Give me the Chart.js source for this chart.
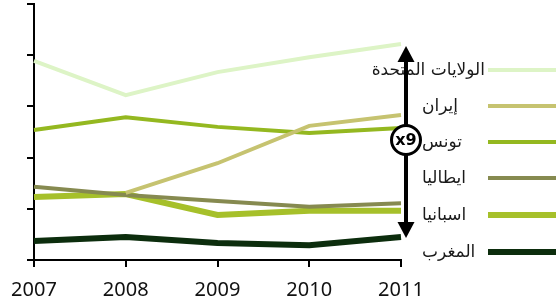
<!DOCTYPE html>
<html>
<head>
<meta charset="utf-8">
<script src="https://cdn.jsdelivr.net/npm/chart.js@4"></script>
<style>
  html, body { margin: 0; padding: 0; background: #fff; }
  #wrap { width: 556px; height: 306px; position: relative; }
</style>
</head>
<body>
<div id="wrap"><canvas id="chart"></canvas></div>
<script>
const years = ["2007", "2008", "2009", "2010", "2011"];

const usa = [3.89, 3.22, 3.67, 3.96, 4.22];
const iran = [null, 1.31, 1.89, 2.62, 2.83];
const tunisia = [2.54, 2.79, 2.60, 2.48, 2.58];
const italy = [1.43, 1.27, 1.15, 1.04, 1.11];
const spain = [1.23, 1.29, 0.88, 0.96, 0.96];
const morocco = [0.37, 0.45, 0.33, 0.29, 0.45];

const seriesNames = ["الولايات المتحدة", "إيران", "تونس", "ايطاليا", "اسبانيا", "المغرب"];
const seriesColors = ["#ddf4c6", "#c6c370", "#94b820", "#868a50", "#a6c02a", "#0c2d0d"];
const seriesWidths = [4, 4, 4, 4, 6, 6];
const ratioLabel = "x9";

const allSeries = [usa, iran, tunisia, italy, spain, morocco];

// legend rows, drawn on the right of the plot
const legendRows = [70, 106, 142, 178, 215, 252];

const sideLegend = {
  id: "sideLegend",
  afterDatasetsDraw(chart) {
    const ctx = chart.ctx;
    ctx.save();
    chart.data.datasets.forEach((ds, i) => {
      const y = legendRows[i];
      ctx.strokeStyle = ds.borderColor;
      ctx.lineWidth = ds.borderWidth;
      ctx.beginPath();
      ctx.moveTo(488, y);
      ctx.lineTo(556, y);
      ctx.stroke();

      ctx.font = "17px 'DejaVu Sans'";
      ctx.fillStyle = "#1a1a1a";
      ctx.textBaseline = "middle";
      const w = ctx.measureText(ds.label).width;
      let x = 422;
      if (x + w > 485) x = 485 - w;
      ctx.textAlign = "left";
      ctx.fillText(ds.label, x, y + 1);
    });
    ctx.restore();
  }
};

const ratioArrow = {
  id: "ratioArrow",
  afterDraw(chart) {
    const ctx = chart.ctx;
    const ys = chart.scales.y;
    const x = 406;
    const top = ys.getPixelForValue(usa[usa.length - 1]) + 2;
    const bottom = ys.getPixelForValue(morocco[morocco.length - 1]) + 1;
    const head = 16;
    ctx.save();
    ctx.fillStyle = "#000";
    ctx.strokeStyle = "#000";
    ctx.lineWidth = 4;
    ctx.beginPath();
    ctx.moveTo(x, top + head - 2);
    ctx.lineTo(x, bottom - head + 2);
    ctx.stroke();
    ctx.beginPath();
    ctx.moveTo(x, top);
    ctx.lineTo(x - 8.5, top + head);
    ctx.lineTo(x + 8.5, top + head);
    ctx.closePath();
    ctx.fill();
    ctx.beginPath();
    ctx.moveTo(x, bottom);
    ctx.lineTo(x - 8.5, bottom - head);
    ctx.lineTo(x + 8.5, bottom - head);
    ctx.closePath();
    ctx.fill();

    const cy = 140;
    ctx.beginPath();
    ctx.arc(x, cy, 14.5, 0, Math.PI * 2);
    ctx.fillStyle = "#fff";
    ctx.fill();
    ctx.lineWidth = 3;
    ctx.stroke();
    ctx.fillStyle = "#000";
    ctx.font = "bold 16px 'DejaVu Sans'";
    ctx.textAlign = "center";
    ctx.textBaseline = "middle";
    ctx.fillText(ratioLabel, x, cy + 1);
    ctx.restore();
  }
};

new Chart(document.getElementById("chart"), {
  type: "line",
  data: {
    labels: years,
    datasets: allSeries.map((d, i) => ({
      label: seriesNames[i],
      data: d,
      borderColor: seriesColors[i],
      backgroundColor: seriesColors[i],
      borderWidth: seriesWidths[i],
      pointRadius: 0,
      tension: 0,
      fill: false
    }))
  },
  options: {
    responsive: true,
    maintainAspectRatio: false,
    animation: false,
    layout: { padding: { top: 4, right: 155, left: 0, bottom: 0 } },
    plugins: {
      legend: { display: false },
      tooltip: { enabled: false }
    },
    scales: {
      x: {
        offset: false,
        afterFit: (s) => { s.height = 46; },
        grid: {
          drawOnChartArea: false,
          color: "#000",
          lineWidth: 2,
          tickLength: 7
        },
        border: { color: "#000", width: 2 },
        ticks: {
          color: "#111",
          padding: 11,
          maxRotation: 0,
          font: { family: "'Noto Sans'", size: 20 }
        }
      },
      y: {
        min: 0,
        max: 5,
        afterFit: (s) => { s.width = 34; },
        grid: {
          drawOnChartArea: false,
          color: "#000",
          lineWidth: 2,
          tickLength: 7
        },
        border: { color: "#000", width: 2 },
        ticks: { stepSize: 1, display: false }
      }
    }
  },
  plugins: [sideLegend, ratioArrow]
});
</script>
</body>
</html>
